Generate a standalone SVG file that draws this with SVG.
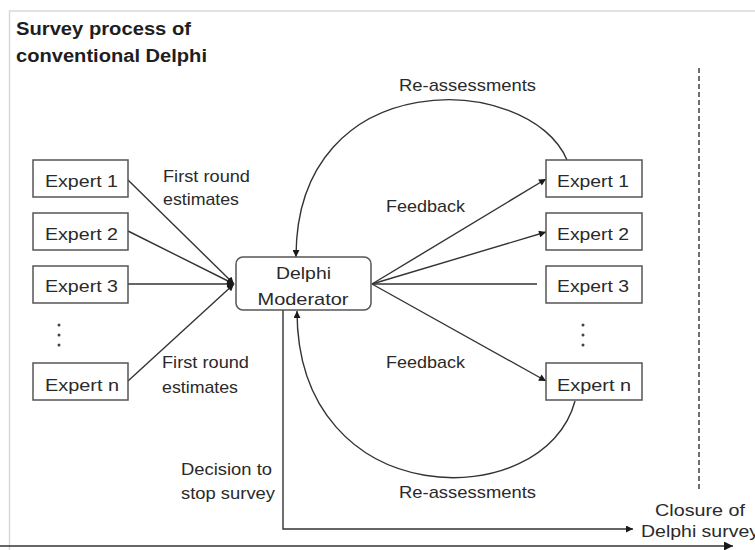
<svg xmlns="http://www.w3.org/2000/svg" width="755" height="550" viewBox="0 0 755 550">
  <style>
    text { font-family: "Liberation Sans", Arial, sans-serif; font-size: 17px; fill: #2a2a2a; }
    .title { font-weight: bold; font-size: 18px; fill: #1e1e1e; }
    .box { fill: #ffffff; stroke: #555555; stroke-width: 1.5; }
    .link { fill: none; stroke: #333333; stroke-width: 1.4; }
    .dot { fill: #444444; }
  </style>
  <defs>
    <marker id="arrow" viewBox="0 0 10 10" refX="10" refY="5" markerWidth="8" markerHeight="7" markerUnits="userSpaceOnUse" orient="auto">
      <path d="M0,0 L10,5 L0,10 z" fill="#1a1a1a"/>
    </marker>
    <marker id="arrowBig" viewBox="0 0 10 10" refX="10" refY="5" markerWidth="12" markerHeight="9" markerUnits="userSpaceOnUse" orient="auto">
      <path d="M0,0 L10,5 L0,10 z" fill="#1a1a1a"/>
    </marker>
  </defs>

  <rect width="755" height="550" fill="#ffffff"/>
  <!-- frame -->
  <path d="M9.5,550 V11 H755" fill="none" stroke="#d9d9d9" stroke-width="1.5"/>

  <!-- heading -->
  <text class="title" x="16" y="35" textLength="175" lengthAdjust="spacingAndGlyphs">Survey process of</text>
  <text class="title" x="16" y="62" textLength="191" lengthAdjust="spacingAndGlyphs">conventional Delphi</text>

  <!-- connectors -->
  <g id="connectors">
    <!-- first round estimates -->
    <line class="link" x1="128" y1="180" x2="234" y2="284" marker-end="url(#arrow)"/>
    <line class="link" x1="128" y1="231" x2="234" y2="284" marker-end="url(#arrow)"/>
    <line class="link" x1="128" y1="284" x2="234" y2="284" marker-end="url(#arrow)"/>
    <line class="link" x1="128" y1="381" x2="234" y2="284" marker-end="url(#arrow)"/>
    <!-- feedback -->
    <line class="link" x1="372" y1="284" x2="546" y2="179" marker-end="url(#arrow)"/>
    <line class="link" x1="372" y1="284" x2="546" y2="232" marker-end="url(#arrow)"/>
    <line class="link" x1="372" y1="284" x2="537" y2="284"/>
    <line class="link" x1="372" y1="284" x2="546" y2="381" marker-end="url(#arrow)"/>
    <!-- re-assessments -->
    <path class="link" d="M567,160 C530,72 296,62 296,257" marker-end="url(#arrow)"/>
    <path class="link" d="M575,401 C545,515 297,515 297,311" marker-end="url(#arrow)"/>
    <!-- stop decision -->
    <path class="link" d="M283,310 V529 H633" marker-end="url(#arrow)"/>
    <!-- time axis -->
    <line class="link" x1="0" y1="546" x2="733" y2="546" stroke-width="1.8" marker-end="url(#arrowBig)"/>
    <!-- closure boundary -->
    <line x1="699" y1="68" x2="699" y2="490" stroke="#333333" stroke-width="1.4" stroke-dasharray="5,3"/>
  </g>

  <!-- left experts -->
  <g id="expert1-left">
    <rect class="box" x="33" y="160" width="95" height="37"/>
    <text x="45" y="187" textLength="73" lengthAdjust="spacingAndGlyphs">Expert 1</text>
  </g>
  <g id="expert2-left">
    <rect class="box" x="33" y="213" width="95" height="37"/>
    <text x="45" y="240" textLength="73" lengthAdjust="spacingAndGlyphs">Expert 2</text>
  </g>
  <g id="expert3-left">
    <rect class="box" x="33" y="266" width="95" height="37"/>
    <text x="45" y="292" textLength="73" lengthAdjust="spacingAndGlyphs">Expert 3</text>
  </g>
  <g id="dots-left">
    <circle class="dot" cx="59" cy="325" r="1.5"/>
    <circle class="dot" cx="59" cy="335" r="1.5"/>
    <circle class="dot" cx="59" cy="345" r="1.5"/>
  </g>
  <g id="expertn-left">
    <rect class="box" x="33" y="363" width="95" height="37"/>
    <text x="45" y="391" textLength="74" lengthAdjust="spacingAndGlyphs">Expert n</text>
  </g>

  <!-- moderator -->
  <g id="moderator">
    <rect class="box" x="236" y="257" width="135" height="53" rx="7"/>
    <text x="303.5" y="279" text-anchor="middle" textLength="55" lengthAdjust="spacingAndGlyphs">Delphi</text>
    <text x="303" y="305" text-anchor="middle" textLength="91" lengthAdjust="spacingAndGlyphs">Moderator</text>
  </g>

  <!-- right experts -->
  <g id="expert1-right">
    <rect class="box" x="546" y="160" width="96" height="37"/>
    <text x="557" y="187" textLength="72" lengthAdjust="spacingAndGlyphs">Expert 1</text>
  </g>
  <g id="expert2-right">
    <rect class="box" x="546" y="213" width="96" height="37"/>
    <text x="557" y="240" textLength="72" lengthAdjust="spacingAndGlyphs">Expert 2</text>
  </g>
  <g id="expert3-right">
    <rect class="box" x="546" y="266" width="96" height="37"/>
    <text x="557" y="292" textLength="72" lengthAdjust="spacingAndGlyphs">Expert 3</text>
  </g>
  <g id="dots-right">
    <circle class="dot" cx="583" cy="325" r="1.5"/>
    <circle class="dot" cx="583" cy="335" r="1.5"/>
    <circle class="dot" cx="583" cy="345" r="1.5"/>
  </g>
  <g id="expertn-right">
    <rect class="box" x="546" y="363" width="96" height="37"/>
    <text x="557" y="391" textLength="74" lengthAdjust="spacingAndGlyphs">Expert n</text>
  </g>

  <!-- labels -->
  <g id="labels">
    <text x="163" y="182" textLength="87" lengthAdjust="spacingAndGlyphs">First round</text>
    <text x="163" y="205" textLength="76" lengthAdjust="spacingAndGlyphs">estimates</text>
    <text x="162" y="368" textLength="87" lengthAdjust="spacingAndGlyphs">First round</text>
    <text x="162" y="393" textLength="76" lengthAdjust="spacingAndGlyphs">estimates</text>
    <text x="386" y="212" textLength="79" lengthAdjust="spacingAndGlyphs">Feedback</text>
    <text x="386" y="368" textLength="79" lengthAdjust="spacingAndGlyphs">Feedback</text>
    <text x="399" y="91" textLength="137" lengthAdjust="spacingAndGlyphs">Re-assessments</text>
    <text x="399" y="498" textLength="137" lengthAdjust="spacingAndGlyphs">Re-assessments</text>
    <text x="181" y="475" textLength="91" lengthAdjust="spacingAndGlyphs">Decision to</text>
    <text x="181" y="499" textLength="94" lengthAdjust="spacingAndGlyphs">stop survey</text>
    <text x="655" y="516" textLength="90" lengthAdjust="spacingAndGlyphs">Closure of</text>
    <text x="641" y="537" textLength="118" lengthAdjust="spacingAndGlyphs">Delphi survey</text>
  </g>
</svg>
